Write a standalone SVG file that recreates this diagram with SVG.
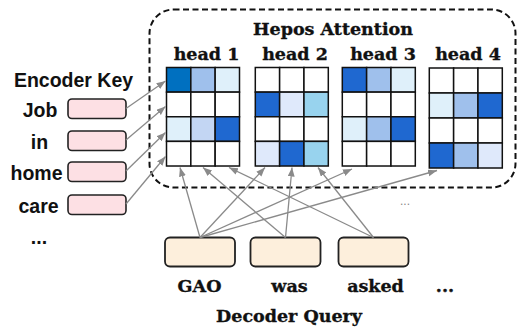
<svg xmlns="http://www.w3.org/2000/svg" width="517" height="327" viewBox="0 0 517 327">
<style>
.serif{font-family:"DejaVu Serif",serif;font-weight:bold;font-size:17.5px;fill:#111;stroke:#111;stroke-width:0.35;text-anchor:middle}
.sans{font-family:"Liberation Sans",Arial,sans-serif;font-weight:bold;font-size:19.5px;fill:#111;text-anchor:middle}
.enc{fill:#fde0e4;stroke:#222;stroke-width:1.6}
.dec{fill:#fdefdc;stroke:#222;stroke-width:1.8}
.c{stroke:#111;stroke-width:1.5;fill:#fff}
.A{fill:#0070c0}.B{fill:#1f68d0}.C{fill:#9fc0ec}.D{fill:#c3d6f3}.E{fill:#dff0fa}.F{fill:#dfe9fb}.G{fill:#98d3ee}
.arr{stroke:#8a8a8a;stroke-width:1.3;fill:none;marker-end:url(#ah)}
</style>
<defs>
<marker id="ah" markerUnits="userSpaceOnUse" markerWidth="10" markerHeight="8" refX="9" refY="3.5" orient="auto">
<path d="M0,0 L9,3.5 L0,7 z" fill="#8a8a8a"/>
</marker>
</defs>
<g id="hepos-box">
<rect x="149.5" y="9.5" width="366" height="178" rx="24" fill="none" stroke="#111" stroke-width="2" stroke-dasharray="6,3.5"/>
<text class="serif" x="333" y="35">Hepos Attention</text>
</g>
<g id="head1">
<text class="serif" x="206.5" y="59.5">head 1</text>
<rect class="c A" x="166.5" y="67.5" width="24.33" height="24.63"/>
<rect class="c C" x="190.83" y="67.5" width="24.33" height="24.63"/>
<rect class="c E" x="215.17" y="67.5" width="24.33" height="24.63"/>
<rect class="c" x="166.5" y="92.13" width="24.33" height="24.63"/>
<rect class="c" x="190.83" y="92.13" width="24.33" height="24.63"/>
<rect class="c" x="215.17" y="92.13" width="24.33" height="24.63"/>
<rect class="c E" x="166.5" y="116.75" width="24.33" height="24.63"/>
<rect class="c D" x="190.83" y="116.75" width="24.33" height="24.63"/>
<rect class="c B" x="215.17" y="116.75" width="24.33" height="24.63"/>
<rect class="c" x="166.5" y="141.38" width="24.33" height="24.63"/>
<rect class="c" x="190.83" y="141.38" width="24.33" height="24.63"/>
<rect class="c" x="215.17" y="141.38" width="24.33" height="24.63"/>
</g>
<g id="head2">
<text class="serif" x="295" y="59.5">head 2</text>
<rect class="c" x="255.3" y="67.5" width="24.33" height="24.63"/>
<rect class="c" x="279.63" y="67.5" width="24.33" height="24.63"/>
<rect class="c" x="303.97" y="67.5" width="24.33" height="24.63"/>
<rect class="c B" x="255.3" y="92.13" width="24.33" height="24.63"/>
<rect class="c F" x="279.63" y="92.13" width="24.33" height="24.63"/>
<rect class="c G" x="303.97" y="92.13" width="24.33" height="24.63"/>
<rect class="c" x="255.3" y="116.75" width="24.33" height="24.63"/>
<rect class="c" x="279.63" y="116.75" width="24.33" height="24.63"/>
<rect class="c" x="303.97" y="116.75" width="24.33" height="24.63"/>
<rect class="c F" x="255.3" y="141.38" width="24.33" height="24.63"/>
<rect class="c B" x="279.63" y="141.38" width="24.33" height="24.63"/>
<rect class="c G" x="303.97" y="141.38" width="24.33" height="24.63"/>
</g>
<g id="head3">
<text class="serif" x="383" y="59.5">head 3</text>
<rect class="c B" x="342.3" y="67.5" width="24.33" height="24.63"/>
<rect class="c C" x="366.63" y="67.5" width="24.33" height="24.63"/>
<rect class="c E" x="390.97" y="67.5" width="24.33" height="24.63"/>
<rect class="c" x="342.3" y="92.13" width="24.33" height="24.63"/>
<rect class="c" x="366.63" y="92.13" width="24.33" height="24.63"/>
<rect class="c" x="390.97" y="92.13" width="24.33" height="24.63"/>
<rect class="c E" x="342.3" y="116.75" width="24.33" height="24.63"/>
<rect class="c C" x="366.63" y="116.75" width="24.33" height="24.63"/>
<rect class="c B" x="390.97" y="116.75" width="24.33" height="24.63"/>
<rect class="c" x="342.3" y="141.38" width="24.33" height="24.63"/>
<rect class="c" x="366.63" y="141.38" width="24.33" height="24.63"/>
<rect class="c" x="390.97" y="141.38" width="24.33" height="24.63"/>
</g>
<g id="head4">
<text class="serif" x="468" y="59.5">head 4</text>
<rect class="c" x="429.3" y="68" width="24.33" height="25"/>
<rect class="c" x="453.63" y="68" width="24.33" height="25"/>
<rect class="c" x="477.97" y="68" width="24.33" height="25"/>
<rect class="c E" x="429.3" y="93" width="24.33" height="25"/>
<rect class="c C" x="453.63" y="93" width="24.33" height="25"/>
<rect class="c B" x="477.97" y="93" width="24.33" height="25"/>
<rect class="c" x="429.3" y="118" width="24.33" height="25"/>
<rect class="c" x="453.63" y="118" width="24.33" height="25"/>
<rect class="c" x="477.97" y="118" width="24.33" height="25"/>
<rect class="c B" x="429.3" y="143" width="24.33" height="25"/>
<rect class="c C" x="453.63" y="143" width="24.33" height="25"/>
<rect class="c F" x="477.97" y="143" width="24.33" height="25"/>
</g>
<g id="encoder-label"><text class="sans" x="73.5" y="87">Encoder Key</text></g>
<g id="enc-job"><text class="sans" x="40" y="116.7">Job</text><rect class="enc" x="68" y="99" width="58" height="19.5" rx="4"/></g>
<g id="enc-in"><text class="sans" x="39.5" y="149">in</text><rect class="enc" x="68" y="131" width="58" height="19.5" rx="4"/></g>
<g id="enc-home"><text class="sans" x="36.5" y="179.5">home</text><rect class="enc" x="68" y="162" width="58" height="19.5" rx="4"/></g>
<g id="enc-care"><text class="sans" x="38.5" y="212.5">care</text><rect class="enc" x="68" y="195" width="58" height="19.5" rx="4"/></g>
<g id="enc-more"><text class="sans" x="39" y="244">...</text></g>
<g id="dec-gao"><rect class="dec" x="165" y="237.5" width="70" height="29" rx="5"/><text class="serif" x="199.5" y="291.5">GAO</text></g>
<g id="dec-was"><rect class="dec" x="250.5" y="237.5" width="70" height="29" rx="5"/><text class="serif" x="289.5" y="291.5">was</text></g>
<g id="dec-asked"><rect class="dec" x="338.5" y="237.5" width="70" height="29" rx="5"/><text class="serif" x="375.5" y="291.5">asked</text></g>
<g id="dec-more"><text class="serif" x="445" y="291.5">...</text></g>
<g id="decoder-label"><text class="serif" x="289" y="321.5">Decoder Query</text></g>
<g id="mid-more"><text x="405" y="205" font-family="Liberation Sans,Arial,sans-serif" font-size="12" fill="#888" text-anchor="middle">...</text></g>
<g id="connectors">
<line class="arr" x1="126" y1="108.5" x2="165.5" y2="81"/>
<line class="arr" x1="126" y1="140" x2="165.5" y2="106.5"/>
<line class="arr" x1="126" y1="171" x2="165.5" y2="132.5"/>
<line class="arr" x1="126" y1="204" x2="165.5" y2="156.5"/>
<line class="arr" x1="200" y1="237.5" x2="180" y2="167.5"/>
<line class="arr" x1="200" y1="237.5" x2="265" y2="167.5"/>
<line class="arr" x1="200" y1="237.5" x2="352" y2="169"/>
<line class="arr" x1="200" y1="237.5" x2="437" y2="170.5"/>
<line class="arr" x1="285.5" y1="237.5" x2="203" y2="167.5"/>
<line class="arr" x1="285.5" y1="237.5" x2="292" y2="167.5"/>
<line class="arr" x1="373.5" y1="237.5" x2="229" y2="167.5"/>
<line class="arr" x1="373.5" y1="237.5" x2="318" y2="167.5"/>
</g>
</svg>
